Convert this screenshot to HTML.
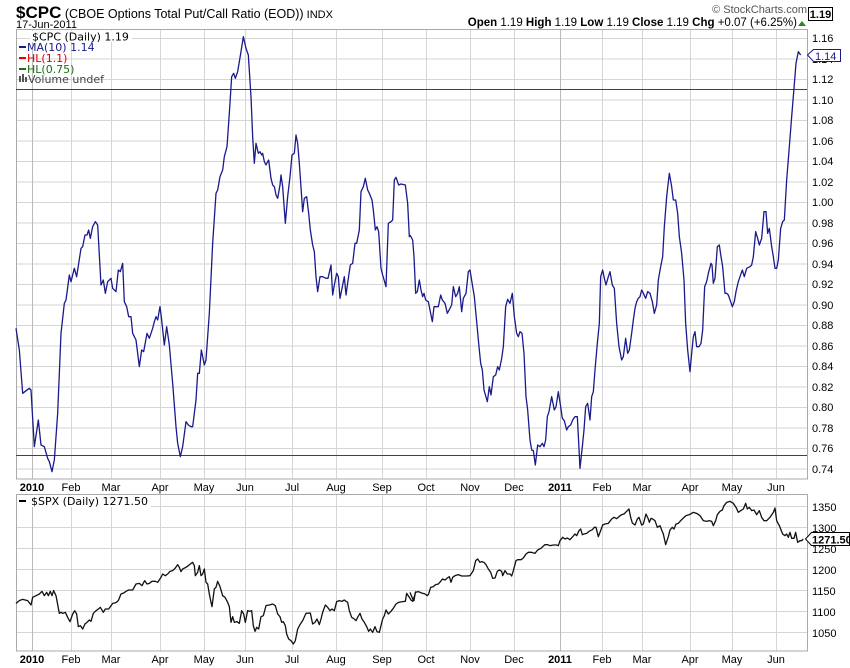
<!DOCTYPE html>
<html><head><meta charset="utf-8"><style>
body{margin:0;background:#fff;width:850px;height:668px;overflow:hidden;font-family:"Liberation Sans",sans-serif}
svg{display:block}
</style></head><body>
<svg width="850" height="668" xmlns="http://www.w3.org/2000/svg" font-family="Liberation Sans, sans-serif">
<!-- header -->
<text x="16" y="18" fill="#000"><tspan font-size="17" font-weight="bold">$CPC</tspan><tspan font-size="12.5"> (CBOE Options Total Put/Call Ratio (EOD))</tspan><tspan font-size="11"> INDX</tspan></text>
<text x="16" y="28" font-size="11" fill="#000">17-Jun-2011</text>
<text x="807" y="13" font-size="11" fill="#555" text-anchor="end">© StockCharts.com</text>
<rect x="808.5" y="7.5" width="24" height="13" fill="#fff" stroke="#000"/>
<text x="820.5" y="18" font-size="11" font-weight="bold" text-anchor="middle">1.19</text>
<text x="797" y="26" font-size="11.5" text-anchor="end"><tspan font-weight="bold">Open</tspan> 1.19 <tspan font-weight="bold">High</tspan> 1.19 <tspan font-weight="bold">Low</tspan> 1.19 <tspan font-weight="bold">Close</tspan> 1.19 <tspan font-weight="bold">Chg</tspan> +0.07 (+6.25%)</text>
<polygon points="798,26 806,26 802,21" fill="#2a8a2a"/>

<!-- top panel grid -->
<g stroke="#d6d6d6" stroke-width="1">
<line x1="16" x2="807" y1="38.5" y2="38.5"/><line x1="16" x2="807" y1="59" y2="59"/><line x1="16" x2="807" y1="79.5" y2="79.5"/>
<line x1="16" x2="807" y1="100" y2="100"/><line x1="16" x2="807" y1="120.5" y2="120.5"/><line x1="16" x2="807" y1="141" y2="141"/>
<line x1="16" x2="807" y1="161.5" y2="161.5"/><line x1="16" x2="807" y1="182" y2="182"/><line x1="16" x2="807" y1="202.5" y2="202.5"/>
<line x1="16" x2="807" y1="223" y2="223"/><line x1="16" x2="807" y1="243.5" y2="243.5"/><line x1="16" x2="807" y1="264" y2="264"/>
<line x1="16" x2="807" y1="284.5" y2="284.5"/><line x1="16" x2="807" y1="305" y2="305"/><line x1="16" x2="807" y1="325.5" y2="325.5"/>
<line x1="16" x2="807" y1="346" y2="346"/><line x1="16" x2="807" y1="366.5" y2="366.5"/><line x1="16" x2="807" y1="387" y2="387"/>
<line x1="16" x2="807" y1="407.5" y2="407.5"/><line x1="16" x2="807" y1="428" y2="428"/><line x1="16" x2="807" y1="448.5" y2="448.5"/>
<line x1="16" x2="807" y1="469" y2="469"/>
</g>
<g stroke="#d6d6d6" stroke-width="1">
<line x1="71.5" x2="71.5" y1="30" y2="479"/><line x1="111.5" x2="111.5" y1="30" y2="479"/><line x1="160.5" x2="160.5" y1="30" y2="479"/>
<line x1="204.5" x2="204.5" y1="30" y2="479"/><line x1="245.5" x2="245.5" y1="30" y2="479"/><line x1="292.5" x2="292.5" y1="30" y2="479"/>
<line x1="336.5" x2="336.5" y1="30" y2="479"/><line x1="382.5" x2="382.5" y1="30" y2="479"/><line x1="426.5" x2="426.5" y1="30" y2="479"/>
<line x1="470.5" x2="470.5" y1="30" y2="479"/><line x1="514.5" x2="514.5" y1="30" y2="479"/><line x1="602.5" x2="602.5" y1="30" y2="479"/>
<line x1="642.5" x2="642.5" y1="30" y2="479"/><line x1="690.5" x2="690.5" y1="30" y2="479"/><line x1="732.5" x2="732.5" y1="30" y2="479"/>
<line x1="776.5" x2="776.5" y1="30" y2="479"/>
</g>
<g stroke="#bbb"><line x1="32.5" x2="32.5" y1="30" y2="479"/><line x1="560.5" x2="560.5" y1="30" y2="479"/></g>
<rect x="16.5" y="29.5" width="791" height="449.5" fill="none" stroke="#aaa"/>
<line x1="16" x2="807" y1="89.5" y2="89.5" stroke="#d00" stroke-width="1"/>
<line x1="16" x2="807" y1="455.5" y2="455.5" stroke="#1a5e1a" stroke-width="1"/>

<!-- CPC line -->
<g fill="none" stroke="#1a1a8c" stroke-width="1.3" stroke-linejoin="round">
<polyline transform="translate(16,30) scale(0.33333)" vector-effect="non-scaling-stroke" points="0,895 10,960 20,1090 40,1075 45,1080 55,1250 67,1170 75,1245 85,1250 95,1285 100,1295 108,1325 115,1290 125,1150 135,910 145,820 150,810 160,735 165,755 175,715 182,740 195,655 200,650 207,615 213,615 218,600 223,625 230,590 238,575 245,585 255,765 262,750 268,790 275,755 285,745 290,775 300,785 307,720 313,725 320,700 325,815 332,830 338,860 345,860 350,910 360,930 370,1010 377,960 383,965 393,910 400,925 410,895 415,875 420,860 425,870 432,830 437,870 445,945 452,890 460,945 470,1060 480,1190 485,1240 493,1280 500,1250 510,1175 517,1185 525,1190 530,1190 540,1110 545,1030 550,1030 556,960 565,1005 570,990 580,850 590,640 600,490 605,480 612,440 620,420 625,380 633,350 640,250 647,140 653,130 658,145 665,125 675,65 682,20 690,55 697,75 705,200 710,320 715,400 720,340 727,370 732,365 737,375 740,370 745,395 750,405 755,395 758,390 765,445 770,465 775,470 780,495 785,505 792,465 795,435 800,470 808,580 815,500 822,440 828,375 835,370 840,315 845,340 850,400 860,545 865,505 872,500 878,550 883,600 890,645 895,665 900,740 905,785 912,740 920,740 930,745 936,745 945,705 950,795 955,765 962,730 967,740 972,805 978,775 985,740 990,795 997,745 1003,705 1010,700 1017,640 1022,640 1030,600 1035,485 1042,470 1048,445 1055,480 1060,490 1068,510 1072,540 1078,600 1083,590 1088,605 1095,715 1100,735 1110,770 1117,580 1125,575 1130,570 1135,450 1140,442 1148,465 1155,462 1168,465 1175,520 1180,620 1182,615"/>
<polyline transform="translate(410,30) scale(0.33333)" vector-effect="non-scaling-stroke" points="0,615 8,630 12,680 17,790 22,785 28,750 33,780 38,800 42,790 47,810 55,815 62,850 67,875 72,830 80,830 85,830 92,795 97,810 105,820 112,850 120,835 125,825 130,770 137,800 143,790 148,770 155,845 160,805 168,790 175,725 180,720 188,770 193,800 200,875 207,950 212,1000 217,1020 222,1080 232,1115 238,1070 243,1095 250,1040 257,1035 263,1010 268,1020 275,985 280,950 287,830 293,808 300,820 307,790 313,860 320,910 325,920 330,905 336,910 342,970 348,1100 353,1140 360,1230 365,1260 370,1262 376,1305 383,1245 390,1250 397,1240 402,1250 407,1230 412,1160 417,1145 425,1100 433,1140 438,1130 445,1085 452,1130 457,1165 463,1172 470,1200 475,1190 482,1185 488,1170 495,1160 502,1160 510,1315 517,1250 522,1200 527,1130 533,1120 540,1170 545,1100 550,1085 555,1020 562,940 568,880 572,740 578,720 583,745 588,765 595,740 600,725 607,765 613,775 620,880 627,950 635,990 640,980 647,925 653,970 658,960 665,910 670,870 675,835 680,815 685,805 690,800 695,780 700,790 707,805 713,785 720,790 727,815 733,850 740,825 745,750 752,710 758,680 763,590 770,500 778,430 785,470 790,510 797,510 803,550 808,620 815,670 822,750 827,880 833,960 840,1025 845,970 850,920 855,905 860,950 867,950 873,940 878,900 884,770 890,755 895,730 903,700 906,705 910,760 915,745 922,650 928,645 933,680 938,710 945,790 950,790 955,795 962,815 967,830 973,815 978,785 985,755 990,740 997,720 1003,740 1010,715 1020,710 1025,705 1030,680 1037,605 1043,625 1048,645 1055,625 1062,545 1068,545 1073,610 1078,595 1085,650 1090,680 1095,715 1100,715 1105,690 1112,595 1118,575 1123,570 1130,450 1138,350 1145,260 1152,175 1158,100 1165,65 1172,75"/>
</g>

<!-- legend top -->
<rect x="30" y="31" width="102" height="11" fill="#fff"/>
<g font-family="DejaVu Sans, sans-serif" font-size="11">
<text x="32" y="40.5" fill="#000">$CPC (Daily) 1.19</text>
<rect x="19" y="46" width="7" height="2" fill="#1a1a8c"/><text x="27" y="51" fill="#1a1a8c">MA(10) 1.14</text>
<rect x="19" y="57" width="7" height="2" fill="#d00"/><text x="27" y="62" fill="#d00">HL(1.1)</text>
<rect x="19" y="68" width="7" height="2" fill="#1a6e1a"/><text x="27" y="73" fill="#1a6e1a">HL(0.75)</text>
<rect x="19" y="76" width="2" height="6" fill="#555"/><rect x="22" y="74" width="2" height="8" fill="#555"/><rect x="25" y="77" width="2" height="5" fill="#555"/>
<text x="28" y="83" fill="#444">Volume undef</text>
</g>

<!-- right axis top -->
<g font-size="11" fill="#000">
<text x="812" y="42">1.16</text><text x="812" y="63">1.14</text><text x="812" y="83">1.12</text><text x="812" y="104">1.10</text>
<text x="812" y="124">1.08</text><text x="812" y="145">1.06</text><text x="812" y="165">1.04</text><text x="812" y="186">1.02</text>
<text x="812" y="206">1.00</text><text x="812" y="227">0.98</text><text x="812" y="247">0.96</text><text x="812" y="268">0.94</text>
<text x="812" y="288">0.92</text><text x="812" y="309">0.90</text><text x="812" y="329">0.88</text><text x="812" y="350">0.86</text>
<text x="812" y="370">0.84</text><text x="812" y="391">0.82</text><text x="812" y="411">0.80</text><text x="812" y="432">0.78</text>
<text x="812" y="452">0.76</text><text x="812" y="473">0.74</text>
</g>
<polygon points="807.5,55 813.5,49.5 840.5,49.5 840.5,61.5 813.5,61.5" fill="#fff" stroke="#1a1a8c"/>
<text x="815" y="60" font-size="11" fill="#1a1a8c">1.14</text>

<!-- x labels top -->
<g font-size="11" fill="#000" text-anchor="middle">
<text x="32" y="491" font-weight="bold">2010</text><text x="71" y="491">Feb</text><text x="111" y="491">Mar</text><text x="160" y="491">Apr</text>
<text x="204" y="491">May</text><text x="245" y="491">Jun</text><text x="292" y="491">Jul</text><text x="336" y="491">Aug</text>
<text x="382" y="491">Sep</text><text x="426" y="491">Oct</text><text x="470" y="491">Nov</text><text x="514" y="491">Dec</text>
<text x="560" y="491" font-weight="bold">2011</text><text x="602" y="491">Feb</text><text x="642" y="491">Mar</text><text x="690" y="491">Apr</text>
<text x="732" y="491">May</text><text x="776" y="491">Jun</text>
</g>

<!-- bottom panel -->
<g stroke="#d6d6d6">
<line x1="16" x2="807" y1="506.5" y2="506.5"/><line x1="16" x2="807" y1="527.5" y2="527.5"/><line x1="16" x2="807" y1="548.5" y2="548.5"/>
<line x1="16" x2="807" y1="569.5" y2="569.5"/><line x1="16" x2="807" y1="590.5" y2="590.5"/><line x1="16" x2="807" y1="611.5" y2="611.5"/>
<line x1="16" x2="807" y1="632.5" y2="632.5"/>
<line x1="71.5" x2="71.5" y1="494" y2="651"/><line x1="111.5" x2="111.5" y1="494" y2="651"/><line x1="160.5" x2="160.5" y1="494" y2="651"/>
<line x1="204.5" x2="204.5" y1="494" y2="651"/><line x1="245.5" x2="245.5" y1="494" y2="651"/><line x1="292.5" x2="292.5" y1="494" y2="651"/>
<line x1="336.5" x2="336.5" y1="494" y2="651"/><line x1="382.5" x2="382.5" y1="494" y2="651"/><line x1="426.5" x2="426.5" y1="494" y2="651"/>
<line x1="470.5" x2="470.5" y1="494" y2="651"/><line x1="514.5" x2="514.5" y1="494" y2="651"/><line x1="602.5" x2="602.5" y1="494" y2="651"/>
<line x1="642.5" x2="642.5" y1="494" y2="651"/><line x1="690.5" x2="690.5" y1="494" y2="651"/><line x1="732.5" x2="732.5" y1="494" y2="651"/>
<line x1="776.5" x2="776.5" y1="494" y2="651"/>
</g>
<g stroke="#bbb"><line x1="32.5" x2="32.5" y1="494" y2="651"/><line x1="560.5" x2="560.5" y1="494" y2="651"/></g>
<rect x="16.5" y="494.5" width="791" height="156.5" fill="none" stroke="#aaa"/>

<g fill="none" stroke="#111" stroke-width="1.3" stroke-linejoin="round">
<polyline transform="translate(16,494) scale(0.33333)" vector-effect="non-scaling-stroke" points="0,328 10,320 20,316 35,320 45,333 50,310 60,305 70,300 78,292 85,305 92,295 97,305 103,292 108,305 113,290 120,305 130,358 135,355 140,358 148,355 155,370 162,383 170,360 176,350 182,360 187,398 193,395 200,405 207,390 213,385 220,378 225,382 232,358 240,350 247,345 253,340 262,355 268,345 278,345 290,328 300,326 307,320 315,300 323,297 330,292 338,288 350,288 360,270 370,268 378,275 386,260 393,270 400,268 408,262 418,262 425,265 435,250 440,240 448,245 455,240 462,232 470,230 478,222 485,212 490,220 495,233 500,225 510,220 517,215 523,210 530,205 535,215 538,245 545,235 550,215 555,245 560,240 565,225 570,265 575,270 580,300 585,325 588,338 595,285 600,280 605,262 612,278 620,305 627,310 635,325 640,338 645,385 650,368 655,385 663,383 670,388 677,350 683,360 688,385 695,350 700,352 707,350 712,395 717,412 722,400 728,405 735,368 742,365 750,335 760,333 770,330 778,335 785,360 792,368 797,385 802,383 808,395 812,420 818,435 825,440 832,450 838,440 845,405 852,392 860,380 870,358 883,357 890,390 897,385 903,375 910,392 915,375 920,355 928,333 935,340 942,350 948,345 955,350 962,323 970,320 978,322 985,318 990,322 995,325 1000,350 1007,370 1015,375 1020,380 1025,370 1032,358 1038,375 1045,385 1052,398 1058,412 1063,405 1070,415 1077,398 1083,413 1090,415 1100,375 1105,365 1110,348 1117,360 1125,352 1132,343 1140,330 1148,325 1160,323 1168,322 1172,298 1180,310 1185,318 1190,322 1200,292"/>
<polyline transform="translate(410,494) scale(0.33333)" vector-effect="non-scaling-stroke" points="0,295 8,315 12,320 16,295 25,293 35,297 45,300 52,305 56,300 62,280 70,278 77,272 85,270 92,262 97,255 105,258 112,252 118,248 123,265 128,250 135,245 145,242 155,246 170,246 180,245 190,230 197,200 203,195 210,205 215,203 222,205 228,212 235,225 242,235 248,253 255,252 262,232 268,228 275,232 278,245 285,230 292,240 300,240 305,246 310,230 318,200 323,197 333,197 340,192 348,180 355,175 365,175 375,178 383,168 393,163 398,158 405,152 413,152 420,155 430,153 440,153 445,155 450,140 458,130 465,135 472,132 480,137 488,128 495,120 500,125 507,110 512,105 517,122 522,120 530,118 537,112 547,107 553,100 558,100 565,128 570,115 578,93 585,90 595,88 605,75 612,70 620,74 628,67 635,62 642,60 650,52 657,45 662,70 667,87 675,93 682,75 687,70 695,93 700,90 708,60 715,75 718,85 723,73 728,75 735,80 742,100 750,95 755,108 760,120 767,152 775,128 780,108 787,100 792,105 798,90 805,88 812,80 820,72 828,65 838,62 850,55 860,58 870,65 880,80 890,82 898,80 905,82 910,95 917,80 922,62 930,52 937,48 942,35 950,25 960,22 970,28 978,40 985,55 992,50 1000,45 1007,28 1012,45 1018,40 1025,50 1032,48 1040,62 1048,50 1055,70 1062,80 1070,80 1080,70 1090,55 1095,42 1100,80 1108,95 1118,120 1125,125 1130,120 1135,130 1140,115 1145,133 1152,133 1157,115 1163,145 1170,140 1175,140 1180,135"/>
</g>
<rect x="17" y="495" width="134" height="12" fill="#fff"/>
<rect x="19" y="500" width="7" height="2" fill="#000"/>
<text x="31" y="505" font-family="DejaVu Sans, sans-serif" font-size="11">$SPX (Daily) 1271.50</text>

<g font-size="11" fill="#000">
<text x="812" y="511">1350</text><text x="812" y="532">1300</text><text x="812" y="553">1250</text><text x="812" y="574">1200</text>
<text x="812" y="595">1150</text><text x="812" y="616">1100</text><text x="812" y="637">1050</text>
</g>
<polygon points="805.5,539 811.5,532.5 849.5,532.5 849.5,545.5 811.5,545.5" fill="#fff" stroke="#000"/>
<text x="812" y="543.5" font-size="11" font-weight="bold">1271.50</text>

<g font-size="11" fill="#000" text-anchor="middle">
<text x="32" y="663" font-weight="bold">2010</text><text x="71" y="663">Feb</text><text x="111" y="663">Mar</text><text x="160" y="663">Apr</text>
<text x="204" y="663">May</text><text x="245" y="663">Jun</text><text x="292" y="663">Jul</text><text x="336" y="663">Aug</text>
<text x="382" y="663">Sep</text><text x="426" y="663">Oct</text><text x="470" y="663">Nov</text><text x="514" y="663">Dec</text>
<text x="560" y="663" font-weight="bold">2011</text><text x="602" y="663">Feb</text><text x="642" y="663">Mar</text><text x="690" y="663">Apr</text>
<text x="732" y="663">May</text><text x="776" y="663">Jun</text>
</g>
</svg>
</body></html>
